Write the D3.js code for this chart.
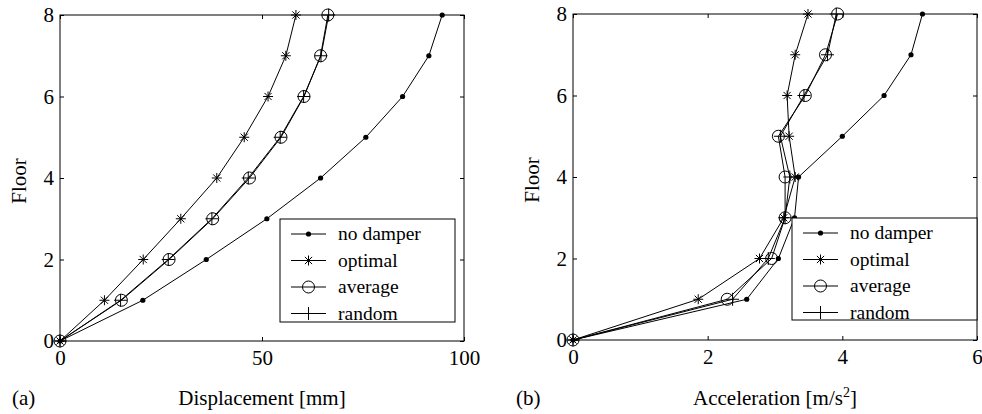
<!DOCTYPE html>
<html>
<head>
<meta charset="utf-8">
<script src="https://cdn.jsdelivr.net/npm/d3@7"></script>
<style>
  body { margin: 0; background: #fff; }
  svg { display: block; }
  svg text { font-family: "Liberation Serif", "DejaVu Serif", "Times New Roman", serif !important; fill: #000; }
</style>
</head>
<body>
<div id="chart"></div>
<script>
// floors (y values shared by every series)
var floors = [0, 1, 2, 3, 4, 5, 6, 7, 8];

// (a) peak displacement [mm]
var dispNoDamper = [0, 20.5, 36.2, 51.2, 64.5, 75.7, 84.8, 91.3, 94.6];
var dispOptimal  = [0, 11.0, 20.6, 29.9, 38.8, 45.6, 51.5, 55.9, 58.4];
var dispAverage  = [0, 15.2, 27.0, 37.8, 46.9, 54.7, 60.4, 64.5, 66.3];
var dispRandom   = [0, 15.0, 26.8, 37.6, 46.6, 54.5, 60.3, 64.6, 66.5];

// (b) peak acceleration [m/s2]
var accNoDamper = [0, 2.58, 3.05, 3.29, 3.35, 4.00, 4.62, 5.02, 5.19];
var accOptimal  = [0, 1.86, 2.77, 3.13, 3.30, 3.21, 3.18, 3.30, 3.49];
var accAverage  = [0, 2.29, 2.95, 3.15, 3.15, 3.05, 3.45, 3.75, 3.93];
var accRandom   = [0, 2.37, 2.90, 3.15, 3.22, 3.08, 3.43, 3.78, 3.91];

var seriesNames = ["no damper", "optimal", "average", "random"];
var markerTypes = ["dot", "star", "circle", "plus"];

var xTicksA = [0, 50, 100];
var xTicksB = [0, 2, 4, 6];
var yTicks = [0, 2, 4, 6, 8];

var w = 982, h = 414;
var serif = '"Liberation Serif", "DejaVu Serif", serif';

var svg = d3.select("#chart").append("svg")
            .attr("width", w)
            .attr("height", h)
            .attr("font-family", serif);

// marker shapes
function markerPath(type) {
  if (type == "star") {
    var a = 5, b = 3.6;
    return "M0," + (-a) + "V" + a + "M" + (-a) + ",0H" + a +
           "M" + (-b) + "," + (-b) + "L" + b + "," + b +
           "M" + (-b) + "," + b + "L" + b + "," + (-b);
  }
  if (type == "plus") {
    var p = 6.5;
    return "M0," + (-p) + "V" + p + "M" + (-p) + ",0H" + p;
  }
  return null;
}

function drawMarker(g, type, x, y) {
  if (type == "dot") {
    g.append("circle").attr("cx", x).attr("cy", y).attr("r", 2.6)
     .attr("fill", "#000");
  } else if (type == "circle") {
    g.append("circle").attr("cx", x).attr("cy", y).attr("r", 6)
     .attr("fill", "none").attr("stroke", "#000").attr("stroke-width", 1);
  } else {
    g.append("path").attr("transform", "translate(" + x + "," + y + ")")
     .attr("d", markerPath(type))
     .attr("fill", "none").attr("stroke", "#000").attr("stroke-width", 1);
  }
}

function panel(opts) {
  var x = d3.scaleLinear().domain(opts.xDomain).range([opts.left, opts.right]);
  var y = d3.scaleLinear().domain([0, 8]).range([opts.bottom, opts.top]);
  var fmt = d3.format("d");

  var g = svg.append("g");

  // inward ticks on all four sides
  g.append("g").attr("transform", "translate(0," + opts.bottom + ")")
   .call(d3.axisBottom(x).tickValues(opts.xTicks).tickFormat(fmt).tickSizeInner(-4).tickSizeOuter(0).tickPadding(9))
   .call(s => s.select(".domain").remove());
  g.append("g").attr("transform", "translate(0," + opts.top + ")")
   .call(d3.axisTop(x).tickValues(opts.xTicks).tickSizeInner(-4).tickSizeOuter(0).tickFormat(""))
   .call(s => s.select(".domain").remove());
  g.append("g").attr("transform", "translate(" + opts.left + ",0)")
   .call(d3.axisLeft(y).tickValues(yTicks).tickFormat(fmt).tickSizeInner(-4).tickSizeOuter(0).tickPadding(6))
   .call(s => s.select(".domain").remove());
  g.append("g").attr("transform", "translate(" + opts.right + ",0)")
   .call(d3.axisRight(y).tickValues(yTicks).tickSizeInner(-4).tickSizeOuter(0).tickFormat(""))
   .call(s => s.select(".domain").remove());

  g.selectAll("g").attr("font-family", serif).attr("font-size", 21);
  g.selectAll(".tick line").attr("stroke", "#000");

  // frame
  g.append("rect")
   .attr("x", opts.left).attr("y", opts.top)
   .attr("width", opts.right - opts.left).attr("height", opts.bottom - opts.top)
   .attr("fill", "none").attr("stroke", "#000").attr("stroke-width", 1);

  // series
  var line = d3.line().x(d => x(d[0])).y(d => y(d[1]));
  opts.series.forEach(function(vals, i) {
    var pts = vals.map((v, j) => [v, floors[j]]);
    g.append("path").attr("d", line(pts))
     .attr("fill", "none").attr("stroke", "#000").attr("stroke-width", 1);
    var mg = g.append("g");
    pts.forEach(p => drawMarker(mg, markerTypes[i], x(p[0]), y(p[1])));
  });

  // legend
  var lg = g.append("g");
  lg.append("rect")
    .attr("x", opts.legend.x).attr("y", opts.legend.y)
    .attr("width", opts.legend.w).attr("height", opts.legend.h)
    .attr("fill", "#fff").attr("stroke", "#000").attr("stroke-width", 1);
  seriesNames.forEach(function(name, i) {
    var ry = opts.legend.y + 15 + i * 26.5;
    var x1 = opts.legend.x + 11, x2 = opts.legend.x + 46;
    lg.append("line").attr("x1", x1).attr("x2", x2).attr("y1", ry).attr("y2", ry)
      .attr("stroke", "#000").attr("stroke-width", 1);
    drawMarker(lg, markerTypes[i], (x1 + x2) / 2, ry);
    lg.append("text").attr("x", opts.legend.x + 58).attr("y", ry + 6)
      .attr("font-size", 19.5).text(name);
  });

  // labels
  svg.append("text")
     .attr("transform", "translate(" + (opts.left - 34) + "," + ((opts.top + opts.bottom) / 2 + 3) + ") rotate(-90)")
     .attr("text-anchor", "middle")
     .attr("font-size", 21).text("Floor");

  var xl = svg.append("text")
     .attr("x", (opts.left + opts.right) / 2).attr("y", 405)
     .attr("text-anchor", "middle")
     .attr("font-size", 21);
  xl.append("tspan").text(opts.xLabel);
  if (opts.sup) {
    xl.append("tspan").attr("dy", -8).attr("font-size", 14).text(opts.sup);
    xl.append("tspan").attr("dy", 8).text("]");
  }

  svg.append("text")
     .attr("x", opts.tagX).attr("y", 405)
     .attr("font-size", 21).text(opts.tag);
}

panel({
  xDomain: [0, 100], xTicks: xTicksA,
  left: 60, right: 464, top: 15, bottom: 341,
  series: [dispNoDamper, dispOptimal, dispAverage, dispRandom],
  legend: { x: 280, y: 219, w: 175, h: 103 },
  xLabel: "Displacement [mm]", tag: "(a)", tagX: 12
});

panel({
  xDomain: [0, 6], xTicks: xTicksB,
  left: 573, right: 977, top: 14, bottom: 340,
  series: [accNoDamper, accOptimal, accAverage, accRandom],
  legend: { x: 792, y: 218, w: 185, h: 102 },
  xLabel: "Acceleration [m/s", sup: "2", tag: "(b)", tagX: 516
});
</script>
</body>
</html>
